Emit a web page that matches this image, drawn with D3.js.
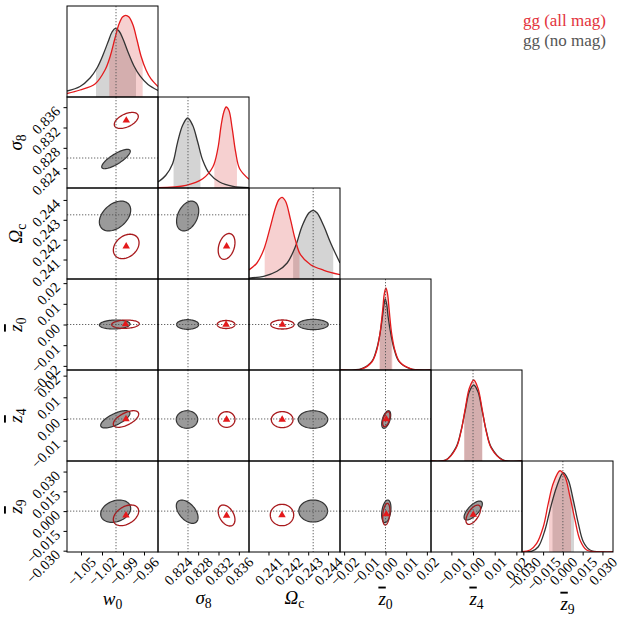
<!DOCTYPE html>
<html>
<head>
<meta charset="utf-8">
<script src="https://cdn.jsdelivr.net/npm/d3@7"></script>
<style>
  body { margin: 0; background: #fff; }
</style>
</head>
<body>
<div id="chart"></div>
<script>
// parameter names, ranges and fiducial values
var paramSymbols = ["w", "σ", "Ω", "z", "z", "z"];
var paramSubs = ["0", "8", "c", "0", "4", "9"];
var paramBar = [false, false, false, true, true, true];
var domains = [[-1.07, -0.94], [0.8201, 0.838], [0.24002, 0.2446], [-0.022, 0.022], [-0.0194, 0.0226], [-0.031, 0.038]];
var truth = [-1.0, 0.826, 0.24325, 0, 0, 0];
var tickVals = [
  [-1.05, -1.02, -0.99, -0.96],
  [0.824, 0.828, 0.832, 0.836],
  [0.241, 0.242, 0.243, 0.244],
  [-0.02, -0.01, 0, 0.01, 0.02],
  [-0.01, 0, 0.01, 0.02],
  [-0.03, -0.015, 0, 0.015, 0.03]
];
var tickFmt = [".2f", ".3f", ".3f", ".2f", ".2f", ".3f"];

// 1D marginals [value, relative height]
var pdfNoMag = [
  [[-1.070,0.066],[-1.0514,0.115],[-1.0371,0.209],[-1.0271,0.319],[-1.0186,0.462],[-1.0114,0.604],[-1.0057,0.714],[-1.0010,0.755],[-0.9957,0.725],[-0.9900,0.637],[-0.9829,0.495],[-0.9743,0.341],[-0.9657,0.231],[-0.9543,0.137],[-0.940,0.071]],
  [[0.8201,0.066],[0.82164,0.140],[0.82297,0.267],[0.82396,0.505],[0.82495,0.689],[0.82593,0.769],[0.82692,0.689],[0.82791,0.505],[0.82890,0.304],[0.83023,0.157],[0.83220,0.066],[0.83484,0.019],[0.8380,0.005]],
  [[0.24002,0.01],[0.24076,0.030],[0.24143,0.085],[0.24194,0.176],[0.24236,0.359],[0.24269,0.579],[0.24303,0.725],[0.24325,0.755],[0.24345,0.725],[0.24379,0.579],[0.24413,0.396],[0.2446,0.176]],
  [[-0.022,0],[-0.0115,0.015],[-0.0066,0.095],[-0.0044,0.22],[-0.0028,0.38],[-0.0015,0.58],[-0.0007,0.72],[-0.0001,0.78],[0.0006,0.72],[0.0013,0.58],[0.0027,0.38],[0.0043,0.22],[0.0065,0.095],[0.0118,0.015],[0.022,0]],
  [[-0.0194,0],[-0.01248,0.013],[-0.00786,0.15],[-0.00556,0.33],[-0.00357,0.56],[-0.00172,0.76],[0.00031,0.835],[0.00229,0.76],[0.00414,0.56],[0.00612,0.33],[0.00843,0.15],[0.01369,0.013],[0.0226,0]],
  [[-0.031,0.001],[-0.0234,0.01],[-0.01864,0.058],[-0.01357,0.242],[-0.00978,0.462],[-0.00470,0.718],[0.00031,0.871],[0.00410,0.791],[0.00789,0.571],[0.01168,0.315],[0.01547,0.113],[0.02054,0.022],[0.03063,0],[0.038,0]]
];
var pdfAllMag = [
  [[-1.070,0.038],[-1.0514,0.077],[-1.030,0.143],[-1.0157,0.297],[-1.0086,0.440],[-1.0014,0.648],[-0.9957,0.802],[-0.9907,0.879],[-0.9861,0.898],[-0.9814,0.879],[-0.9757,0.791],[-0.970,0.626],[-0.9643,0.451],[-0.9571,0.297],[-0.950,0.198],[-0.940,0.115]],
  [[0.8201,0.003],[0.82560,0.030],[0.82890,0.102],[0.83088,0.231],[0.83187,0.432],[0.83252,0.689],[0.83305,0.835],[0.83351,0.890],[0.83404,0.854],[0.83470,0.652],[0.83537,0.396],[0.83616,0.212],[0.8380,0.096]],
  [[0.24002,0.10],[0.24042,0.176],[0.24076,0.322],[0.24110,0.579],[0.24135,0.780],[0.24152,0.871],[0.24168,0.898],[0.24186,0.854],[0.24211,0.652],[0.24235,0.432],[0.24261,0.267],[0.24312,0.157],[0.24379,0.096],[0.2446,0.047]],
  [[-0.022,0],[-0.0115,0.011],[-0.0067,0.085],[-0.0043,0.212],[-0.0027,0.396],[-0.0014,0.652],[-0.0006,0.835],[0.0002,0.901],[0.0010,0.835],[0.0018,0.652],[0.0030,0.396],[0.0046,0.212],[0.0070,0.085],[0.0127,0.011],[0.022,0]],
  [[-0.0194,0],[-0.01248,0.011],[-0.00786,0.14],[-0.00556,0.322],[-0.00357,0.579],[-0.00172,0.799],[0.00031,0.89],[0.00229,0.799],[0.00414,0.579],[0.00612,0.322],[0.00843,0.14],[0.01369,0.011],[0.0226,0]],
  [[-0.031,0.003],[-0.0249,0.022],[-0.01986,0.095],[-0.01485,0.278],[-0.01106,0.535],[-0.00727,0.755],[-0.00220,0.893],[0.00159,0.827],[0.00538,0.608],[0.00917,0.352],[0.01296,0.132],[0.01804,0.022],[0.02812,0],[0.038,0]]
];
// shaded 68% intervals
var bandNoMag = [[-1.0286,-0.9714],[0.82316,0.82845],[0.24224,0.24426],[-0.00266,0.0029],[-0.0040,0.0042],[-0.00788,0.00842]];
var bandAllMag = [[-1.0096,-0.9619],[0.83118,0.83563],[0.24081,0.24256],[-0.0030,0.00329],[-0.0041,0.0043],[-0.01053,0.00614]];

// 2D contours: row param, col param, centre, half extents, correlation
var ellNoMag = [
  {row:1,col:0,cx:-1.0,cy:0.8258,ex:0.0204,ey:0.00191,rho:0.8},
  {row:2,col:0,cx:-1.0014,cy:0.24319,ex:0.0224,ey:0.000751,rho:0.4},
  {row:2,col:1,cx:0.82593,cy:0.24319,ex:0.00218,ey:0.000751,rho:0.35},
  {row:3,col:0,cx:-1.00186,cy:0.0,ex:0.0219,ey:0.00218,rho:0.1},
  {row:3,col:1,cx:0.82593,cy:0.0,ex:0.00218,ey:0.00232,rho:0},
  {row:3,col:2,cx:0.24325,cy:0.0,ex:0.000758,ey:0.00249,rho:0},
  {row:4,col:0,cx:-1.0010,cy:-0.00016,ex:0.0209,ey:0.00399,rho:0.7},
  {row:4,col:1,cx:0.8258,cy:-0.00025,ex:0.00211,ey:0.00406,rho:0},
  {row:4,col:2,cx:0.24324,cy:-0.00025,ex:0.000743,ey:0.00406,rho:0},
  {row:4,col:3,cx:0.00034,cy:-0.00025,ex:0.00218,ey:0.00406,rho:0.5},
  {row:5,col:0,cx:-1.00043,cy:-0.00007,ex:0.02143,ey:0.00845,rho:0.25},
  {row:5,col:1,cx:0.82584,cy:-0.00045,ex:0.00214,ey:0.00883,rho:-0.5},
  {row:5,col:2,cx:0.24325,cy:0.00008,ex:0.000725,ey:0.00834,rho:0},
  {row:5,col:3,cx:0.00039,cy:-0.00015,ex:0.00225,ey:0.0086,rho:0.3},
  {row:5,col:4,cx:0.00008,cy:0.00046,ex:0.00422,ey:0.0072,rho:0.7}
];
var ellAllMag = [
  {row:1,col:0,cx:-0.98529,cy:0.83339,ex:0.01714,ey:0.00158,rho:0.5},
  {row:2,col:0,cx:-0.98543,cy:0.24166,ex:0.01836,ey:0.000614,rho:0.3},
  {row:2,col:1,cx:0.83359,cy:0.24166,ex:0.00165,ey:0.00065,rho:0.3},
  {row:3,col:0,cx:-0.98643,cy:0.00015,ex:0.0197,ey:0.002,rho:0.1},
  {row:3,col:1,cx:0.83349,cy:0.0,ex:0.00175,ey:0.00193,rho:0},
  {row:3,col:2,cx:0.24170,cy:0.0,ex:0.000589,ey:0.00218,rho:0},
  {row:4,col:0,cx:-0.98571,cy:-0.00002,ex:0.01814,ey:0.00383,rho:0.6},
  {row:4,col:1,cx:0.83359,cy:-0.00025,ex:0.00165,ey:0.0036,rho:0},
  {row:4,col:2,cx:0.24169,cy:-0.0003,ex:0.000546,ey:0.00369,rho:0},
  {row:4,col:3,cx:0.00039,cy:-0.0001,ex:0.00176,ey:0.00346,rho:0.5},
  {row:5,col:0,cx:-0.98571,cy:-0.00318,ex:0.01814,ey:0.00785,rho:0.4},
  {row:5,col:1,cx:0.83359,cy:-0.00333,ex:0.00165,ey:0.00796,rho:-0.4},
  {row:5,col:2,cx:0.24168,cy:-0.00296,ex:0.000589,ey:0.00811,rho:0},
  {row:5,col:3,cx:0.00039,cy:-0.00235,ex:0.00176,ey:0.00822,rho:0.3},
  {row:5,col:4,cx:0.00012,cy:-0.00273,ex:0.00339,ey:0.00731,rho:0.6}
];

var legendLabels = ["gg (all mag)", "gg (no mag)"];

var W = 622, H = 620,
    gridLeft = 67, gridTop = 6, size = 91, n = 6;

var redLine = "#e41a1c", darkLine = "#333333", redContour = "#a8191c";
var serif = "'Liberation Serif'";

var svg = d3.select("#chart").append("svg")
    .attr("width", W)
    .attr("height", H);

var defs = svg.append("defs");

var xs = domains.map(function(d, k) {
  return d3.scaleLinear().domain(d).range([gridLeft + k * size, gridLeft + (k + 1) * size]);
});
var ys = domains.map(function(d, k) {
  return d3.scaleLinear().domain(d).range([gridTop + (k + 1) * size, gridTop + k * size]);
});

function panelClip(i, j) {
  var id = "clip-" + i + "-" + j;
  defs.append("clipPath").attr("id", id)
    .append("rect")
    .attr("x", gridLeft + j * size).attr("y", gridTop + i * size)
    .attr("width", size).attr("height", size);
  return "url(#" + id + ")";
}

function dotted(g, x1, y1, x2, y2) {
  g.append("line")
    .attr("x1", x1).attr("y1", y1).attr("x2", x2).attr("y2", y2)
    .attr("stroke", "#555").attr("stroke-width", 0.9)
    .attr("stroke-dasharray", "1.3,1.7");
}

// ---- diagonal panels
for (var k = 0; k < n; k++) {
  var g = svg.append("g").attr("clip-path", panelClip(k, k));
  var yd = d3.scaleLinear().domain([0, 1]).range([gridTop + (k + 1) * size, gridTop + k * size]);
  var xk = xs[k];

  var area = d3.area().curve(d3.curveCatmullRom)
    .x(function(d) { return xk(d[0]); })
    .y0(yd(0))
    .y1(function(d) { return yd(d[1]); });
  var line = d3.line().curve(d3.curveCatmullRom)
    .x(function(d) { return xk(d[0]); })
    .y(function(d) { return yd(d[1]); });

  [[pdfNoMag, bandNoMag, "#000", 0.17, "n"], [pdfAllMag, bandAllMag, "#d62728", 0.22, "a"]].forEach(function(s) {
    var id = "band-" + k + "-" + s[4];
    var b = s[1][k];
    defs.append("clipPath").attr("id", id)
      .append("rect")
      .attr("x", xk(b[0])).attr("y", gridTop + k * size)
      .attr("width", xk(b[1]) - xk(b[0])).attr("height", size);
    g.append("path")
      .attr("clip-path", "url(#" + id + ")")
      .attr("d", area(s[0][k]))
      .attr("fill", s[2]).attr("fill-opacity", s[3]);
  });

  g.append("path").attr("d", line(pdfNoMag[k]))
    .attr("fill", "none").attr("stroke", darkLine).attr("stroke-width", 1.3);
  g.append("path").attr("d", line(pdfAllMag[k]))
    .attr("fill", "none").attr("stroke", redLine).attr("stroke-width", 1.3);

  dotted(g, xk(truth[k]), gridTop + k * size, xk(truth[k]), gridTop + (k + 1) * size);
}

// ---- off-diagonal panels
function ellipsePoints(e) {
  var pts = [], s = Math.sqrt(1 - e.rho * e.rho);
  for (var t = 0; t < 72; t++) {
    var a = t / 72 * 2 * Math.PI;
    pts.push([e.cx + e.ex * Math.cos(a), e.cy + e.ey * (e.rho * Math.cos(a) + s * Math.sin(a))]);
  }
  return pts;
}

for (var i = 1; i < n; i++) {
  for (var j = 0; j < i; j++) {
    var g2 = svg.append("g").attr("clip-path", panelClip(i, j));
    var xj = xs[j], yi = ys[i];
    var cl = d3.line().curve(d3.curveLinearClosed)
      .x(function(d) { return xj(d[0]); })
      .y(function(d) { return yi(d[1]); });
    var cell = function(e) { return e.row === i && e.col === j; };

    ellNoMag.filter(cell).forEach(function(e) {
      g2.append("path").attr("d", cl(ellipsePoints(e)))
        .attr("fill", "#9a9a9a").attr("stroke", darkLine).attr("stroke-width", 1.2);
    });
    ellAllMag.filter(cell).forEach(function(e) {
      g2.append("path").attr("d", cl(ellipsePoints(e)))
        .attr("fill", "none").attr("stroke", redContour).attr("stroke-width", 1.3);
    });

    dotted(g2, xj(truth[j]), gridTop + i * size, xj(truth[j]), gridTop + (i + 1) * size);
    dotted(g2, gridLeft + j * size, yi(truth[i]), gridLeft + (j + 1) * size, yi(truth[i]));

    ellAllMag.filter(cell).forEach(function(e) {
      g2.append("path")
        .attr("d", d3.symbol(d3.symbolTriangle, 24)())
        .attr("transform", "translate(" + xj(e.cx) + "," + yi(e.cy) + ")")
        .attr("fill", redLine);
    });
  }
}

// ---- frames
for (var i = 0; i < n; i++) {
  for (var j = 0; j <= i; j++) {
    svg.append("rect")
      .attr("x", gridLeft + j * size).attr("y", gridTop + i * size)
      .attr("width", size).attr("height", size)
      .attr("fill", "none").attr("stroke", "#000").attr("stroke-width", 1);
  }
}

// ---- axes
var gridBottom = gridTop + n * size;
var tickFont = 14.5;
var maxLabelH = [];
for (var k = 0; k < n; k++) {
  var ax = svg.append("g")
    .attr("transform", "translate(0," + gridBottom + ")")
    .call(d3.axisBottom(xs[k]).tickValues(tickVals[k]).tickFormat(d3.format(tickFmt[k])).tickSize(3.5).tickPadding(0));
  ax.select(".domain").remove();
  var mh = 0;
  ax.selectAll(".tick text")
    .style("font-family", serif).style("font-size", tickFont + "px")
    .each(function() {
      var L = this.getComputedTextLength();
      var h = (L + 9) * 0.7071;
      mh = Math.max(mh, h);
      d3.select(this).attr("y", null).attr("dy", null)
        .attr("text-anchor", "middle").attr("dominant-baseline", "central")
        .attr("transform", "translate(0," + (4.5 + h / 2) + ") rotate(-45)");
    });
  maxLabelH.push(mh);

  if (k > 0) {
    var ay = svg.append("g")
      .attr("transform", "translate(" + gridLeft + ",0)")
      .call(d3.axisLeft(ys[k]).tickValues(tickVals[k]).tickFormat(d3.format(tickFmt[k])).tickSize(3.5).tickPadding(0));
    ay.select(".domain").remove();
    ay.selectAll(".tick text")
      .style("font-family", serif).style("font-size", tickFont + "px")
      .attr("x", null).attr("dy", null)
      .attr("text-anchor", "end").attr("dominant-baseline", "central")
      .attr("transform", "translate(-9.5,1) rotate(-45)");
  }
}

// ---- axis labels
function mathLabel(t, k) {
  var s = t.append("tspan").style("font-style", "italic").text(paramSymbols[k]);
  if (paramBar[k]) s.style("text-decoration", "overline");
  t.append("tspan").attr("dy", "0.3em").style("font-size", "0.72em").text(paramSubs[k]);
}

for (var k = 0; k < n; k++) {
  var tx = svg.append("text")
    .attr("x", gridLeft + (k + 0.5) * size)
    .attr("y", gridBottom + 4.5 + maxLabelH[k] + 18)
    .attr("text-anchor", "middle")
    .style("font-family", serif).style("font-size", "19px");
  mathLabel(tx, k);
  if (k > 0) {
    var ty = svg.append("text")
      .attr("transform", "translate(22," + (gridTop + (k + 0.5) * size) + ") rotate(-90)")
      .attr("text-anchor", "middle")
      .style("font-family", serif).style("font-size", "19px");
    mathLabel(ty, k);
  }
}

// ---- legend
svg.append("text").attr("x", 606).attr("y", 26).attr("text-anchor", "end")
  .style("font-family", serif).style("font-size", "17px")
  .attr("fill", "#e3323b").text(legendLabels[0]);
svg.append("text").attr("x", 606).attr("y", 46).attr("text-anchor", "end")
  .style("font-family", serif).style("font-size", "17px")
  .attr("fill", "#555").text(legendLabels[1]);
</script>
</body>
</html>
